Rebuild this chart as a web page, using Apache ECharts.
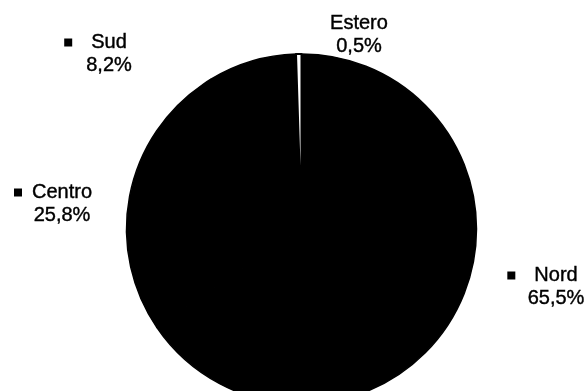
<!DOCTYPE html>
<html>
<head>
<meta charset="utf-8">
<script src="https://cdn.jsdelivr.net/npm/echarts@6/dist/echarts.min.js"></script>
<style>html,body{margin:0;padding:0;background:#fff}#c{width:587px;height:391px}</style>
</head>
<body>
<div id="c"></div>
<script>
const categories = ['Nord', 'Centro', 'Sud', 'Estero'];
const values = [65.5, 25.8, 8.2, 0.5];
const valueLabels = ['65,5%', '25,8%', '8,2%', '0,5%'];
const hasMarker = [true, true, true, false];
const sliceColors = ['#000000', '#000000', '#000000', '#ffffff'];

// label placement (pixel centres) and marker gap per label
const labelPos = [[556, 287], [62, 204], [109, 54], [359, 35]];
const markerGap = [19, 10, 19, 0];

const chart = echarts.init(document.getElementById('c'), null, {renderer: 'canvas'});
const font = 'Liberation Sans, Arial, sans-serif';

const data = categories.map((name, i) => {
  const gapKey = 'g' + i;
  const spacerKey = 'z' + i;
  const rich = {
    t: {fontSize: 20, fontFamily: font, color: '#000', lineHeight: 23, textBorderColor: '#000', textBorderWidth: 0.4},
    m: {width: 8, height: 8, backgroundColor: '#000'},
  };
  rich[gapKey] = {width: markerGap[i], fontSize: 20, lineHeight: 23};
  rich[spacerKey] = {width: 8 + markerGap[i], fontSize: 20, lineHeight: 23};
  const line1 = hasMarker[i]
    ? '{m|}{' + gapKey + '| }{t|' + name + '}{' + spacerKey + '| }'
    : '{t|' + name + '}';
  return {
    name: name,
    value: values[i],
    itemStyle: i === 3
      ? {color: sliceColors[i], borderColor: '#000', borderWidth: 2}
      : {color: sliceColors[i], borderColor: '#000', borderWidth: 1.5},
    label: {
      formatter: line1 + '\n{t|' + valueLabels[i] + '}',
      rich: rich
    }
  };
});

chart.setOption({
  animation: false,
  backgroundColor: '#ffffff',
  series: [{
    type: 'pie',
    center: [301.5, 229],
    radius: 175,
    startAngle: 90,
    clockwise: true,
    avoidLabelOverlap: false,
    data: data,
    label: {show: true, position: 'outside', align: 'center'},
    labelLine: {show: false},
    labelLayout: function (params) {
      const p = labelPos[params.dataIndex];
      return {x: p[0], y: p[1], align: 'center', verticalAlign: 'middle'};
    },
    emphasis: {disabled: true}
  }]
});
</script>
</body>
</html>
